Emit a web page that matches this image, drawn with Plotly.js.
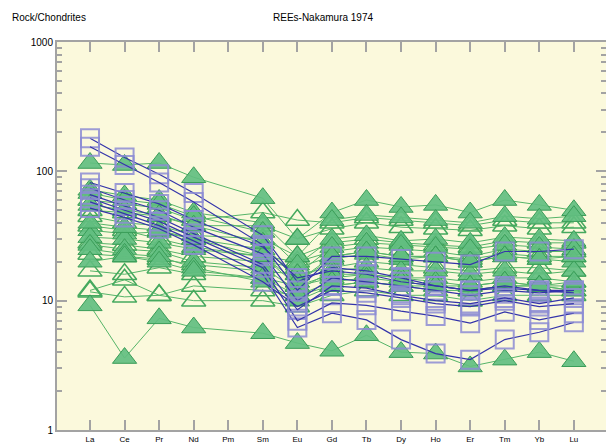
<!DOCTYPE html>
<html>
<head>
<meta charset="utf-8">
<script src="https://cdn.plot.ly/plotly-3.0.1.min.js"></script>
<style>html,body{margin:0;padding:0;background:#fff;}#chart{width:606px;height:448px;}</style>
</head>
<body>
<div id="chart"></div>
<script>
// Categories (chondrite-normalised REE)
const ree = ["La","Ce","Pr","Nd","Pm","Sm","Eu","Gd","Tb","Dy","Ho","Er","Tm","Yb","Lu"];

// Blue square series (Pm not analysed -> null)
const sq1 = [180,128,95,68,null,32,14,18,17,15,13,12,13,12,12];
const sq2 = [155,112,82,58,null,27,12,22,22,21,20,19,24,24,25];
const sq3 = [82,68,56,42,null,26,15,17,16,14,13,12,12.5,12,11.5];
const sq4 = [74,60,50,37,null,23,10,15,14,13,12,11,12,11.5,12];
const sq5 = [66,54,44,33,null,19,8.5,13,12.5,11,10,9.5,10.5,9.5,10.5];
const sq6 = [58,47,38,29,null,16,6.2,8.0,7.1,5.0,3.9,3.5,5.0,5.7,6.8];
const sq7 = [62,50,41,31,null,18,7,9.6,9.2,8.3,7.6,6.7,8.2,7.1,8.0];
const sq8 = [52,44,36,27,null,14,9,12,11.5,10.5,9.5,9,10,9,9.5];

// Green triangle series: filled (tf*) and open (to*)
const tf1 = [116,112,116,90,null,62,30,48,60,53,55,48,60,55,50];
const tf2 = [72,65,60,48,null,40,22,42,46,44,42,40,45,43,45];
const tf3 = [68,60,56,45,null,34,19,30,32,29,30,28,31,30,29];
const tf4 = [35,33,34,30,null,25,16,26,28,27,26,25,27,26,25];
const tf5 = [31,30,28,25,null,22,14,21,23,21,22,20,22,21,20];
const tf6 = [27,25,24,20,null,18,12,17,18,17,17,16,17,16,17];
const tf7 = [40,37,35,30,null,22,13,16,16,15,14,13,14,13,13];
const tf8 = [25,23,22,18,null,14,10,13,14,13,13,12,13,13,12];
const tf9 = [9.2,3.6,7.3,6.2,null,5.6,4.7,4.1,5.4,4.0,3.9,3.1,3.5,4.0,3.4];
const tf10 = [55,50,46,38,null,28,14,22,24,22,22,20,22,21,22];
const tf11 = [20,22,20,17,null,15,11,14,15,14,13,13,14,13,14];
const to1 = [60,56,52,42,null,48,42,40,44,42,40,38,42,40,40];
const to2 = [50,48,45,38,null,38,30,36,40,37,36,35,38,36,37];
const to3 = [45,40,38,32,null,30,22,28,30,28,27,26,29,28,28];
const to4 = [28,27,25,22,null,20,18,22,24,22,22,21,23,22,22];
const to5 = [23,22,21,19,null,17,16,18,20,19,18,17,18,18,17];
const to6 = [17,16,18,16,null,15,13,15,16,15,15,14,15,15,14];
const to7 = [12,14.5,11,13,null,12,11,13,14,13,12,12,13,13,12];
const to8 = [11.7,10.7,11,10,null,10,9,11,12,11,11,10,11,11,11];
const to9 = [38,35,30,26,null,22,20,24,26,25,24,22,25,24,24];

const squareSeries = [sq1,sq2,sq3,sq4,sq5,sq6,sq7,sq8];
const filledSeries = [tf1,tf2,tf3,tf4,tf5,tf6,tf7,tf8,tf9,tf10,tf11];
const openSeries = [to1,to2,to3,to4,to5,to6,to7,to8,to9];

const greenLine = '#55b468';
const traces = [];
openSeries.forEach(v => traces.push({
  x: ree, y: v, type: 'scatter', mode: 'lines+markers', connectgaps: true,
  line: {color: greenLine, width: 1},
  marker: {symbol: 'triangle-up-open', size: 21, color: '#45a95e', line: {width: 1.5, color: '#45a95e'}},
  showlegend: false, hoverinfo: 'skip'
}));
filledSeries.forEach(v => traces.push({
  x: ree, y: v, type: 'scatter', mode: 'lines+markers', connectgaps: true,
  line: {color: greenLine, width: 1},
  marker: {symbol: 'triangle-up', size: 21, color: 'rgba(98,190,128,0.92)', line: {width: 1, color: '#3a9d58'}},
  showlegend: false, hoverinfo: 'skip'
}));
squareSeries.forEach(v => traces.push({
  x: ree, y: v, type: 'scatter', mode: 'lines+markers', connectgaps: true,
  line: {color: '#3434aa', width: 1.2},
  marker: {symbol: 'square-open', size: 18, color: 'rgba(140,140,212,0.85)', line: {width: 2, color: 'rgba(140,140,212,0.85)'}},
  showlegend: false, hoverinfo: 'skip'
}));

const minorVals = [];
for (let d = 1; d <= 100; d *= 10) for (let k = 2; k <= 9; k++) minorVals.push(k * d);

const axisGrey = '#a3a3a3';
const font = 'Liberation Sans, Arial, sans-serif';
const layout = {
  width: 606, height: 448,
  margin: {l: 57, r: 0, t: 42, b: 18, pad: 0},
  paper_bgcolor: '#ffffff', plot_bgcolor: '#fbf9dc',
  font: {family: font, color: '#000', size: 10},
  showlegend: false,
  xaxis: {
    type: 'category', range: [-0.955, 14.93],
    showline: true, linecolor: axisGrey, linewidth: 2, mirror: 'allticks',
    ticks: 'inside', ticklen: 10, tickwidth: 2, tickcolor: axisGrey,
    tickfont: {size: 8, family: font}, showgrid: false, zeroline: false
  },
  yaxis: {
    type: 'log', range: [0, 3],
    tickmode: 'array', tickvals: [1,10,100,1000], ticktext: ['1','10','100','1000'],
    showline: true, linecolor: axisGrey, linewidth: 2, mirror: 'allticks',
    ticks: 'inside', ticklen: 10, tickwidth: 2, tickcolor: axisGrey,
    minor: {tickvals: minorVals, ticks: 'inside', ticklen: 5, tickwidth: 2, tickcolor: axisGrey, showgrid: false},
    tickfont: {size: 10, family: font}, showgrid: false, zeroline: false
  },
  annotations: [
    {text: 'Rock/Chondrites', xref: 'paper', yref: 'paper', x: -0.0856, y: 1.062,
     xanchor: 'left', yanchor: 'middle', showarrow: false, font: {size: 10, family: font}},
    {text: 'REEs-Nakamura 1974', xref: 'paper', yref: 'paper', x: 0.4845, y: 1.062,
     xanchor: 'center', yanchor: 'middle', showarrow: false, font: {size: 10, family: font}}
  ]
};

Plotly.newPlot('chart', traces, layout, {staticPlot: true, displayModeBar: false});
</script>
</body>
</html>
